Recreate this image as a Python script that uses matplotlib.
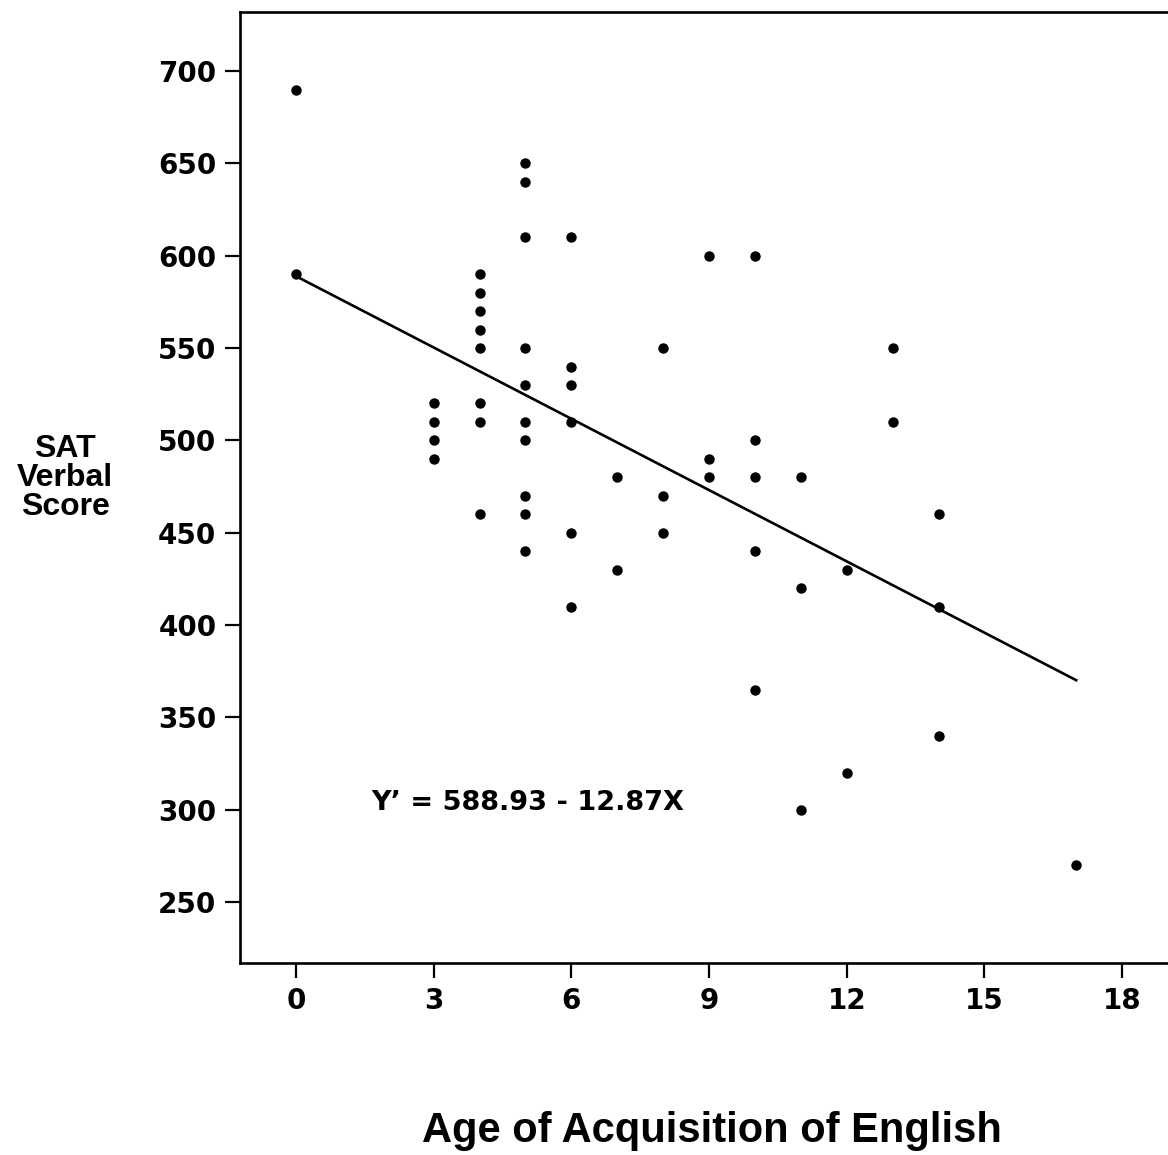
import matplotlib
matplotlib.use("Agg")
import matplotlib.pyplot as plt
import numpy as np

# age of acquisition of English (years) and SAT verbal score, one entry per student
ages = [0, 0,
        3, 3, 3, 3,
        4, 4, 4, 4, 4, 4, 4, 4,
        5, 5, 5, 5, 5, 5, 5, 5, 5, 5,
        6, 6, 6, 6, 6, 6,
        7, 7,
        8, 8, 8,
        9, 9, 9,
        10, 10, 10, 10, 10,
        11, 11, 11,
        12, 12,
        13, 13,
        14, 14, 14,
        17]
scores = [690, 590,
          520, 510, 500, 490,
          590, 580, 570, 560, 550, 520, 510, 460,
          650, 640, 610, 550, 530, 510, 500, 470, 460, 440,
          610, 540, 530, 510, 450, 410,
          480, 430,
          550, 470, 450,
          600, 490, 480,
          600, 500, 480, 440, 365,
          480, 420, 300,
          430, 320,
          550, 510,
          460, 410, 340,
          270]

# regression line Y' = a + bX
intercept = 588.93
slope = -12.87
line_x = [0, 17]

x_ticks = [0, 3, 6, 9, 12, 15, 18]
y_ticks = [250, 300, 350, 400, 450, 500, 550, 600, 650, 700]

W, H = 1168, 1155
fig = plt.figure(figsize=(W / 100, H / 100), dpi=100)
ax = fig.add_axes([240 / W, 1 - 963 / H, 1 - 240 / W, (963 - 12) / H])

ax.plot(ages, scores, 'o', color='black', markersize=7.5, markeredgewidth=0)
lx = np.array(line_x)
ax.plot(lx, intercept + slope * lx, color='black', linewidth=1.9)

ax.set_xlim(-1.22, 19.0)
ax.set_ylim(217, 732)
ax.set_xticks(x_ticks)
ax.set_yticks(y_ticks)
ax.tick_params(direction='out', length=11, width=1.6, pad=6,
               labelsize=20, color='black')
for lab in ax.get_xticklabels() + ax.get_yticklabels():
    lab.set_fontweight('bold')
    lab.set_family('DejaVu Sans')

for side in ['left', 'bottom', 'top']:
    ax.spines[side].set_linewidth(1.9)
ax.spines['right'].set_visible(False)

ax.text(1.63, 300, "Y\u2019 = 588.93 - 12.87X", fontsize=19.5,
        fontweight='bold', family='DejaVu Sans', va='baseline', ha='left')

fig.text(65 / W, 1 - 478 / H, "SAT\nVerbal\nScore", ha='center', va='center',
         multialignment='center', fontsize=23, fontweight='bold',
         family='Liberation Sans', linespacing=0.95)
fig.text(712 / W, 1 - 1142 / H, "Age of Acquisition of English", ha='center',
         va='baseline', fontsize=30, fontweight='bold', family='Liberation Sans')

fig.savefig('out.png', dpi=100)
